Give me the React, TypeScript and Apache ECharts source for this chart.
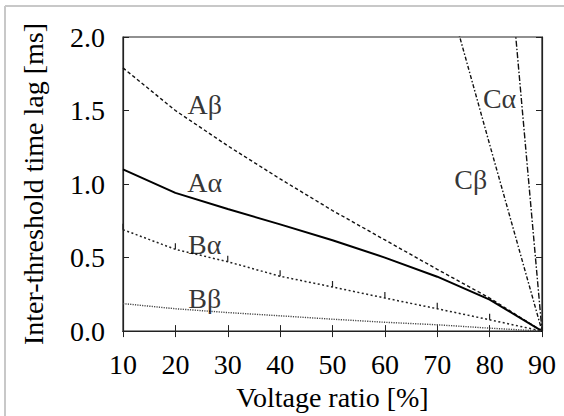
import React, { useEffect, useRef } from "react";
import * as echarts from "echarts";

const xTicks = [10, 20, 30, 40, 50, 60, 70, 80, 90];
const aBeta = [1.79, 1.5, 1.26, 1.035, 0.82, 0.62, 0.42, 0.225, 0];
const aAlpha = [1.1, 0.94, 0.83, 0.726, 0.618, 0.5, 0.37, 0.214, 0];
const bAlpha = [0.69, 0.556, 0.472, 0.373, 0.3, 0.225, 0.152, 0.077, 0];
const bBeta = [0.187, 0.152, 0.126, 0.104, 0.081, 0.06, 0.043, 0.02, 0];
const cBetaX = [70, 80, 90];
const cBeta = [2.55, 1.27, 0];
const cAlphaX = [80, 90];
const cAlpha = [4.0, 0];

const labelNames = ["Aβ", "Aα", "Bα", "Bβ", "Cα", "Cβ"];
const labelX = [25.6, 25.6, 25.6, 25.6, 81.9, 76.4];
const labelY = [1.54, 1.01, 0.59, 0.225, 1.58, 1.03];

const FONT = "Liberation Serif";
const INK = "#000";
const FS = 28;

function pairs(xs: number[], ys: number[]) {
  return xs.map((x, i) => [x, ys[i]]);
}

export default function App() {
  const ref = useRef<HTMLDivElement>(null);
  useEffect(() => {
    if (!ref.current) return;
    const chart = echarts.init(ref.current, null, { renderer: "svg" });
    const lineBase = (name: string, data: number[][], width: number, type: any, color: string) => ({
      name,
      type: "line",
      data,
      showSymbol: false,
      symbol: "none",
      lineStyle: { width, type, color },
      clip: true,
      z: 3,
    });
    const axisLabel = { fontFamily: FONT, fontSize: FS, color: INK };
    const bAlphaSeries: any = lineBase("Bα", pairs(xTicks, bAlpha), 1.5, [2, 2.5], "#222");
    bAlphaSeries.showSymbol = true;
    bAlphaSeries.symbol = "rect";
    bAlphaSeries.symbolSize = [1.2, 6];
    bAlphaSeries.symbolOffset = [0, -3];
    bAlphaSeries.itemStyle = { color: "#222" };
    chart.setOption({
      animation: false,
      backgroundColor: "#fff",
      textStyle: { fontFamily: FONT },
      grid: { left: 123, right: 22, top: 37, bottom: 77, show: true, borderColor: "#222", borderWidth: 1.2 },
      graphic: [
        { type: "line", shape: { x1: 5, y1: 6, x2: 564, y2: 6 }, style: { stroke: "#c8c8c8", lineWidth: 2 } },
        { type: "line", shape: { x1: 5, y1: 6, x2: 5, y2: 416 }, style: { stroke: "#c8c8c8", lineWidth: 2 } },
      ],
      xAxis: [
        {
          type: "value",
          min: 10,
          max: 90,
          interval: 10,
          position: "bottom",
          name: "Voltage ratio [%]",
          nameLocation: "middle",
          nameGap: 46,
          nameTextStyle: { fontFamily: FONT, fontSize: FS, color: INK, verticalAlign: "top" },
          axisLine: { show: true, lineStyle: { color: "#222", width: 1.2 } },
          axisTick: { show: true, inside: true, length: 6, lineStyle: { color: "#222" } },
          axisLabel: { ...axisLabel, margin: 19 },
          splitLine: { show: false },
        },
        {
          type: "value",
          min: 10,
          max: 90,
          interval: 10,
          position: "top",
          axisLine: { show: true, lineStyle: { color: "#222", width: 1.2 } },
          axisTick: { show: true, inside: true, length: 6, lineStyle: { color: "#222" } },
          axisLabel: { show: false },
          splitLine: { show: false },
        },
      ],
      yAxis: [
        {
          type: "value",
          min: 0,
          max: 2,
          interval: 0.5,
          position: "left",
          name: "Inter-threshold time lag [ms]",
          nameLocation: "middle",
          nameGap: 76,
          nameTextStyle: { fontFamily: FONT, fontSize: FS, color: INK },
          axisLine: { show: true, lineStyle: { color: "#222", width: 1.2 } },
          axisTick: { show: true, inside: true, length: 6, lineStyle: { color: "#222" } },
          axisLabel: { ...axisLabel, margin: 18, formatter: (v: number) => v.toFixed(1) },
          splitLine: { show: false },
        },
        {
          type: "value",
          min: 0,
          max: 2,
          interval: 0.5,
          position: "right",
          axisLine: { show: true, lineStyle: { color: "#222", width: 1.2 } },
          axisTick: { show: true, inside: true, length: 6, lineStyle: { color: "#222" } },
          axisLabel: { show: false },
          splitLine: { show: false },
        },
      ],
      series: [
        lineBase("Aβ", pairs(xTicks, aBeta), 1.4, [3.5, 2.5], "#111"),
        lineBase("Aα", pairs(xTicks, aAlpha), 2, "solid", "#000"),
        bAlphaSeries,
        lineBase("Bβ", pairs(xTicks, bBeta), 1.4, [1.2, 1.2], "#444"),
        lineBase("Cα", pairs(cAlphaX, cAlpha), 1.4, [6, 2, 1.5, 2], "#111"),
        lineBase("Cβ", pairs(cBetaX, cBeta), 1.4, [4, 2, 1.5, 2], "#111"),
        {
          type: "scatter",
          symbolSize: 0,
          data: labelNames.map((n, i) => ({ name: n, value: [labelX[i], labelY[i]] })),
          label: {
            show: true,
            position: "inside",
            formatter: (p: any) => p.name,
            fontFamily: FONT,
            fontSize: FS,
            color: INK,
          },
          z: 5,
        },
      ],
    });
    return () => chart.dispose();
  }, []);
  return <div ref={ref} style={{ width: 564, height: 416, position: "absolute", left: 0, top: 0 }} />;
}
